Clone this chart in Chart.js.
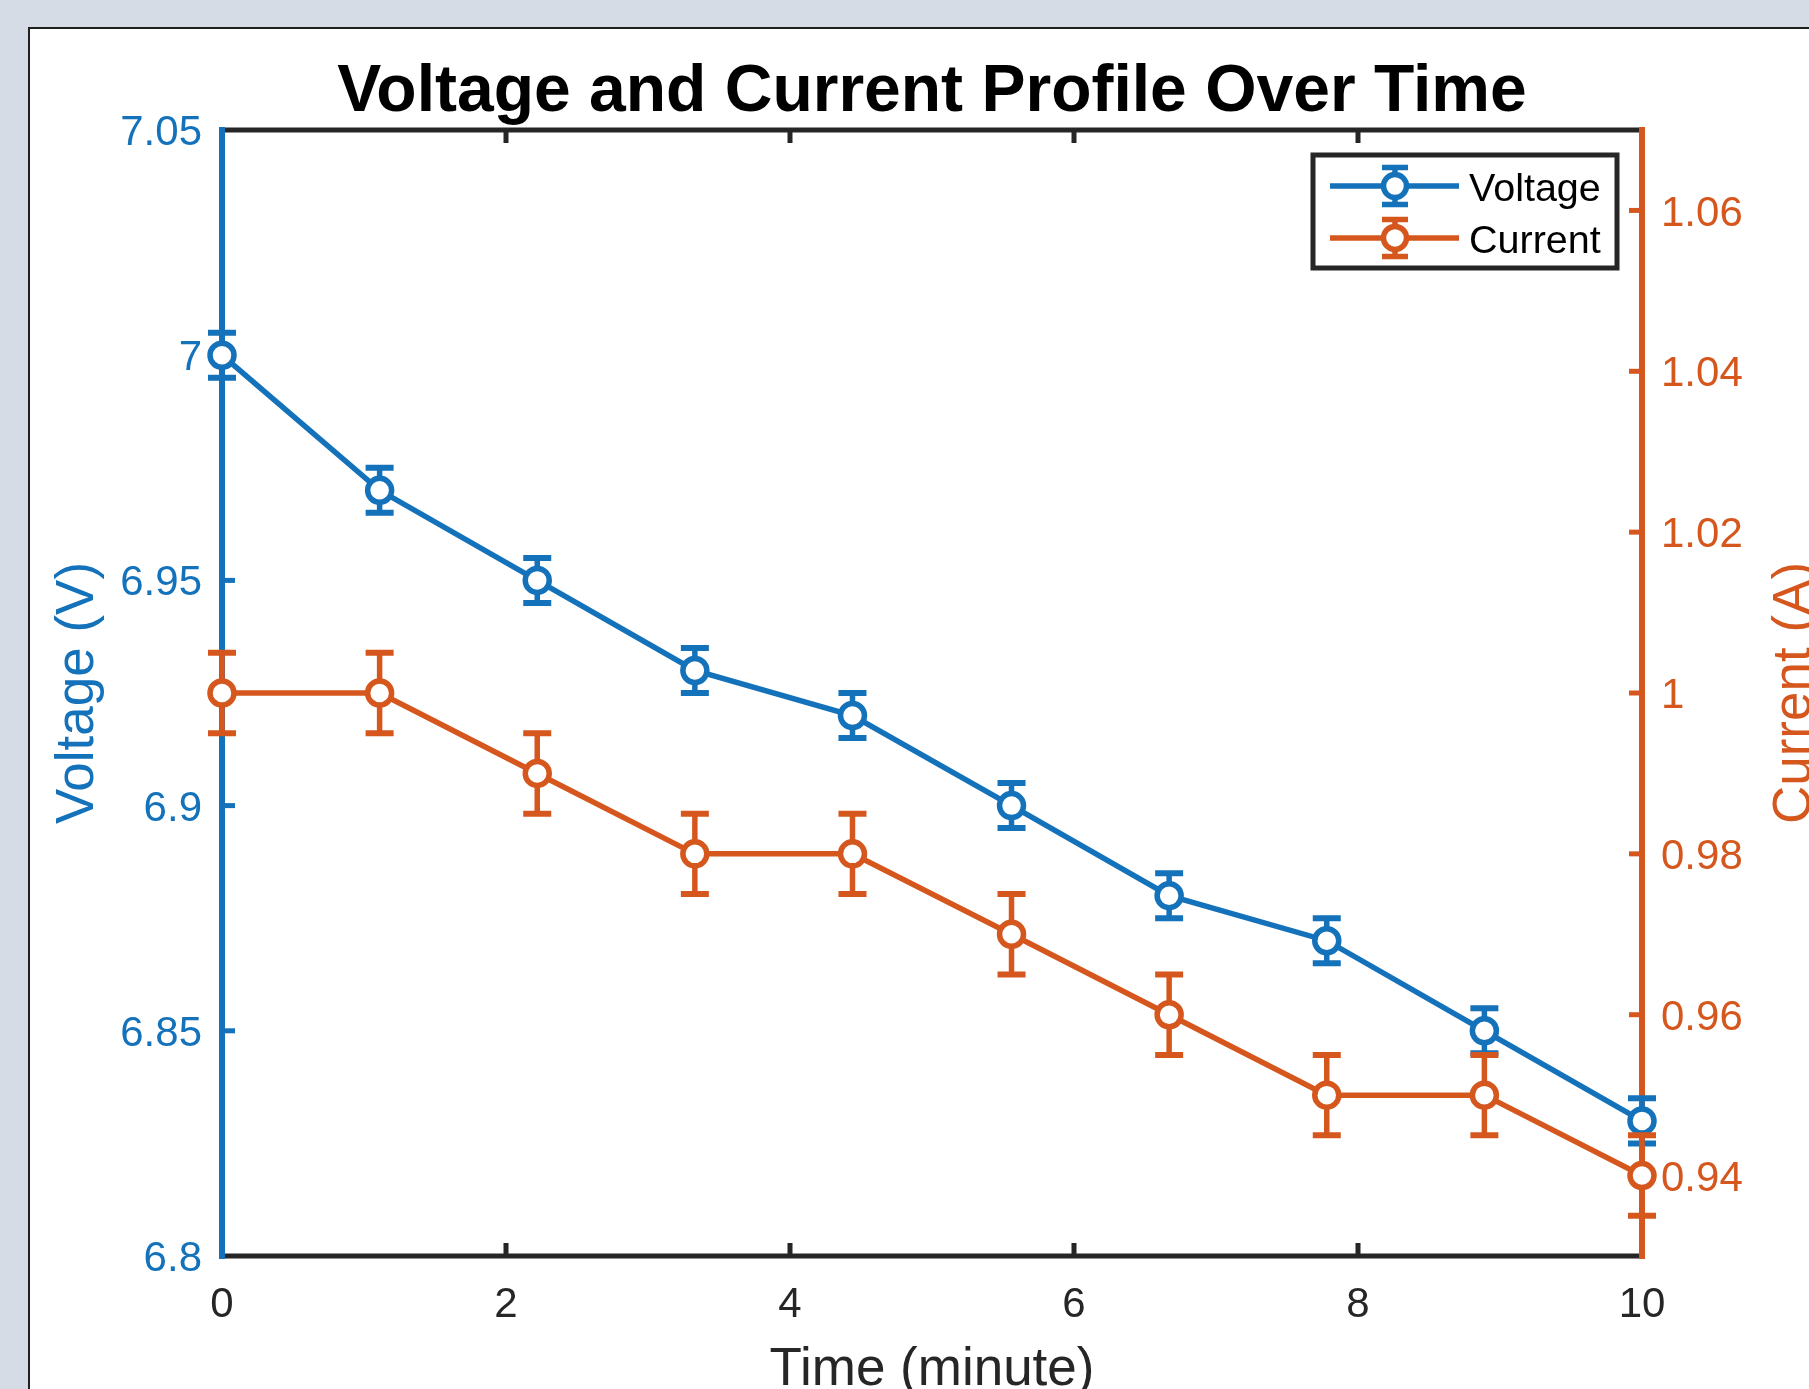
<!DOCTYPE html>
<html>
<head>
<meta charset="utf-8">
<script src="https://cdn.jsdelivr.net/npm/chart.js@4.4.1/dist/chart.umd.min.js"></script>
<style>
  html, body { margin: 0; padding: 0; background: #d6dce5; overflow: hidden; }
  #wrap { position: relative; width: 1809px; height: 1389px; }
</style>
</head>
<body>
<div id="wrap"><canvas id="c"></canvas></div>
<script>
// ---------------- data ----------------
const timeMin     = [0, 1.11, 2.22, 3.33, 4.44, 5.56, 6.67, 7.78, 8.89, 10];
const voltage     = [7.00, 6.97, 6.95, 6.93, 6.92, 6.90, 6.88, 6.87, 6.85, 6.83];
const voltageErr  = [0.005, 0.005, 0.005, 0.005, 0.005, 0.005, 0.005, 0.005, 0.005, 0.005];
const current     = [1.00, 1.00, 0.99, 0.98, 0.98, 0.97, 0.96, 0.95, 0.95, 0.94];
const currentErr  = [0.005, 0.005, 0.005, 0.005, 0.005, 0.005, 0.005, 0.005, 0.005, 0.005];

const xTicks       = [0, 2, 4, 6, 8, 10];
const xTickLabels  = ['0', '2', '4', '6', '8', '10'];
const vTicks       = [6.8, 6.85, 6.9, 6.95, 7, 7.05];
const vTickLabels  = ['6.8', '6.85', '6.9', '6.95', '7', '7.05'];
const cTicks       = [0.94, 0.96, 0.98, 1, 1.02, 1.04, 1.06];
const cTickLabels  = ['0.94', '0.96', '0.98', '1', '1.02', '1.04', '1.06'];
const xRange = [0, 10];
const vRange = [6.8, 7.05];
const cRange = [0.93, 1.07];

// ---------------- style ----------------
const BLUE = '#1472bb';
const ORANGE = '#d5571e';
const AXIS = '#262626';
const FONT = "'Liberation Sans', Arial, Helvetica, sans-serif";
const LW = 5.5;

const pts = (ys) => timeMin.map((t, i) => ({ x: t, y: ys[i] }));

// page background + white figure panel
const panelPlugin = {
  id: 'panel',
  beforeDraw(chart) {
    const ctx = chart.ctx;
    ctx.save();
    ctx.fillStyle = '#d6dce5';
    ctx.fillRect(0, 0, chart.width, chart.height);
    ctx.fillStyle = '#ffffff';
    ctx.fillRect(29, 28, chart.width - 29, chart.height - 28);
    ctx.strokeStyle = '#202020';
    ctx.lineWidth = 2;
    ctx.beginPath();
    ctx.moveTo(29, chart.height + 5);
    ctx.lineTo(29, 28);
    ctx.lineTo(chart.width + 5, 28);
    ctx.stroke();
    ctx.restore();
    // nudge y tick labels slightly down (MATLAB text centring)
    ['y', 'y1'].forEach(id => {
      const s = chart.scales[id];
      if (!s || typeof s.getLabelItems !== 'function') return;
      const items = s.getLabelItems();
      if (items && !items._nudged) {
        items.forEach(it => { it.textOffset = (it.textOffset || 0) + 3.5; });
        items._nudged = true;
      }
    });
  }
};

// axis box lines and inward ticks (MATLAB style)
const axesPlugin = {
  id: 'matlabAxes',
  beforeDatasetsDraw(chart) {
    const ctx = chart.ctx;
    const { left, right, top, bottom } = chart.chartArea;
    const xs = chart.scales.x, ys = chart.scales.y, y1 = chart.scales.y1;
    const TL = 13;
    ctx.save();
    ctx.lineCap = 'butt';
    ctx.strokeStyle = AXIS; ctx.lineWidth = 5;
    xs.ticks.forEach(t => {
      if (t.value <= xs.min || t.value >= xs.max) return;
      const px = xs.getPixelForValue(t.value);
      ctx.beginPath();
      ctx.moveTo(px, bottom); ctx.lineTo(px, bottom - TL);
      ctx.moveTo(px, top); ctx.lineTo(px, top + TL);
      ctx.stroke();
    });
    ctx.strokeStyle = BLUE;
    ys.ticks.forEach(t => {
      if (t.value <= ys.min || t.value >= ys.max) return;
      const py = ys.getPixelForValue(t.value);
      ctx.beginPath(); ctx.moveTo(left, py); ctx.lineTo(left + TL, py); ctx.stroke();
    });
    ctx.strokeStyle = ORANGE;
    y1.ticks.forEach(t => {
      if (t.value <= y1.min || t.value >= y1.max) return;
      const py = y1.getPixelForValue(t.value);
      ctx.beginPath(); ctx.moveTo(right, py); ctx.lineTo(right - TL, py); ctx.stroke();
    });
    ctx.strokeStyle = AXIS; ctx.lineWidth = 5;
    ctx.beginPath();
    ctx.moveTo(left, top); ctx.lineTo(right, top);
    ctx.moveTo(left, bottom); ctx.lineTo(right, bottom);
    ctx.stroke();
    ctx.lineWidth = 6;
    ctx.strokeStyle = BLUE;
    ctx.beginPath(); ctx.moveTo(left, top - 3); ctx.lineTo(left, bottom + 3); ctx.stroke();
    ctx.strokeStyle = ORANGE;
    ctx.beginPath(); ctx.moveTo(right, top - 3); ctx.lineTo(right, bottom + 3); ctx.stroke();
    // right axis title, reading bottom-to-top like MATLAB
    const tOpt = y1.options.title;
    ctx.fillStyle = ORANGE;
    ctx.font = '53px ' + FONT;
    ctx.textAlign = 'center';
    ctx.textBaseline = 'middle';
    ctx.translate(1795, (top + bottom) / 2);
    ctx.rotate(-Math.PI / 2);
    ctx.fillText(tOpt.text, 0, 0);
    ctx.restore();
  }
};

// vertical error bars, drawn under each dataset's line and markers
const errorBarPlugin = {
  id: 'errorBars',
  beforeDatasetDraw(chart, args) {
    const ds = chart.data.datasets[args.index];
    if (!ds.errors) return;
    const meta = args.meta;
    const yScale = chart.scales[meta.yAxisID];
    const ctx = chart.ctx;
    const CAP = 14;
    ctx.save();
    ctx.strokeStyle = ds.borderColor;
    ctx.lineCap = 'butt';
    meta.data.forEach((el, i) => {
      const v = ds.data[i].y, e = ds.errors[i];
      const x = el.x;
      const yt = yScale.getPixelForValue(v + e);
      const yb = yScale.getPixelForValue(v - e);
      ctx.lineWidth = LW;
      ctx.beginPath();
      ctx.moveTo(x, yt); ctx.lineTo(x, yb);
      ctx.stroke();
      ctx.lineWidth = LW + 0.5;
      ctx.beginPath();
      ctx.moveTo(x - CAP, yt); ctx.lineTo(x + CAP, yt);
      ctx.moveTo(x - CAP, yb); ctx.lineTo(x + CAP, yb);
      ctx.stroke();
    });
    ctx.restore();
  }
};

// MATLAB-like boxed legend, north-east inside the axes
const legendPlugin = {
  id: 'boxLegend',
  afterDraw(chart) {
    const ctx = chart.ctx;
    const { right, top } = chart.chartArea;
    const bw = 304, bh = 113;
    const bx = right - 25 - bw, by = top + 25;
    ctx.save();
    ctx.fillStyle = '#ffffff';
    ctx.fillRect(bx, by, bw, bh);
    ctx.strokeStyle = AXIS; ctx.lineWidth = 5;
    ctx.strokeRect(bx, by, bw, bh);
    chart.data.datasets.forEach((ds, i) => {
      const y = by + 31 + i * 51.9;
      const mx = bx + 82;
      ctx.strokeStyle = ds.borderColor;
      ctx.lineWidth = LW;
      ctx.lineCap = 'butt';
      ctx.beginPath();
      ctx.moveTo(bx + 17, y); ctx.lineTo(bx + 146, y);
      ctx.moveTo(mx, y - 18.5); ctx.lineTo(mx, y + 18.5);
      ctx.moveTo(mx - 13, y - 18.5); ctx.lineTo(mx + 13, y - 18.5);
      ctx.moveTo(mx - 13, y + 18.5); ctx.lineTo(mx + 13, y + 18.5);
      ctx.stroke();
      ctx.beginPath();
      ctx.arc(mx, y, 11.5, 0, Math.PI * 2);
      ctx.fillStyle = '#ffffff';
      ctx.fill();
      ctx.stroke();
      ctx.fillStyle = '#000000';
      ctx.font = '39.5px ' + FONT;
      ctx.textAlign = 'left';
      ctx.textBaseline = 'middle';
      ctx.fillText(ds.label, bx + 156, y + 4);
    });
    ctx.restore();
  }
};

const fixTicks = (vals) => (scale) => { scale.ticks = vals.map(v => ({ value: v })); };

const seriesStyle = (color) => ({
  borderColor: color,
  backgroundColor: '#ffffff',
  borderWidth: LW,
  pointRadius: 12,
  pointBorderWidth: 5.5,
  pointBackgroundColor: '#ffffff',
  pointBorderColor: color,
  tension: 0,
  clip: false
});

new Chart(document.getElementById('c'), {
  type: 'line',
  data: {
    datasets: [
      Object.assign({ label: 'Voltage', data: pts(voltage), errors: voltageErr, yAxisID: 'y', order: 1 }, seriesStyle(BLUE)),
      Object.assign({ label: 'Current', data: pts(current), errors: currentErr, yAxisID: 'y1', order: 0 }, seriesStyle(ORANGE))
    ]
  },
  options: {
    responsive: true,
    maintainAspectRatio: false,
    animation: false,
    events: [],
    layout: { padding: { left: 45, right: 0, top: 30, bottom: 0 } },
    plugins: {
      legend: { display: false },
      tooltip: { enabled: false },
      title: {
        display: true,
        text: 'Voltage and Current Profile Over Time',
        fullSize: false,
        color: '#000000',
        font: { family: FONT, size: 66, weight: 'bold', lineHeight: 1.1 },
        padding: { top: 26.3, bottom: 1.1 }
      }
    },
    scales: {
      x: {
        type: 'linear',
        min: xRange[0], max: xRange[1],
        afterBuildTicks: fixTicks(xTicks),
        afterFit: (s) => { s.height = 133; },
        grid: { display: false, drawTicks: false },
        border: { display: false },
        ticks: {
          autoSkip: false, maxRotation: 0, padding: 24,
          color: AXIS,
          font: { family: FONT, size: 42 },
          callback: (v) => xTickLabels[xTicks.indexOf(v)]
        },
        title: {
          display: true, text: 'Time (minute)', color: AXIS,
          font: { family: FONT, size: 53, lineHeight: 0.7 },
          padding: { top: 0, bottom: 0.3 }
        }
      },
      y: {
        type: 'linear', position: 'left',
        min: vRange[0], max: vRange[1],
        afterBuildTicks: fixTicks(vTicks),
        afterFit: (s) => { s.width = 177; },
        grid: { display: false, drawTicks: false },
        border: { display: false },
        ticks: {
          padding: 20, color: BLUE,
          font: { family: FONT, size: 42 },
          callback: (v) => vTickLabels[vTicks.indexOf(v)]
        },
        title: {
          display: true, text: 'Voltage (V)', color: BLUE,
          font: { family: FONT, size: 53, lineHeight: 1.2 },
          padding: { top: 1.9, bottom: 0 }
        }
      },
      y1: {
        type: 'linear', position: 'right',
        min: cRange[0], max: cRange[1],
        afterBuildTicks: fixTicks(cTicks),
        afterFit: (s) => { s.width = 167; },
        grid: { display: false, drawTicks: false },
        border: { display: false },
        ticks: {
          padding: 19, color: ORANGE,
          font: { family: FONT, size: 42 },
          callback: (v) => cTickLabels[cTicks.indexOf(v)]
        },
        title: { display: false, text: 'Current (A)' }
      }
    }
  },
  plugins: [panelPlugin, axesPlugin, errorBarPlugin, legendPlugin]
});
</script>
</body>
</html>
